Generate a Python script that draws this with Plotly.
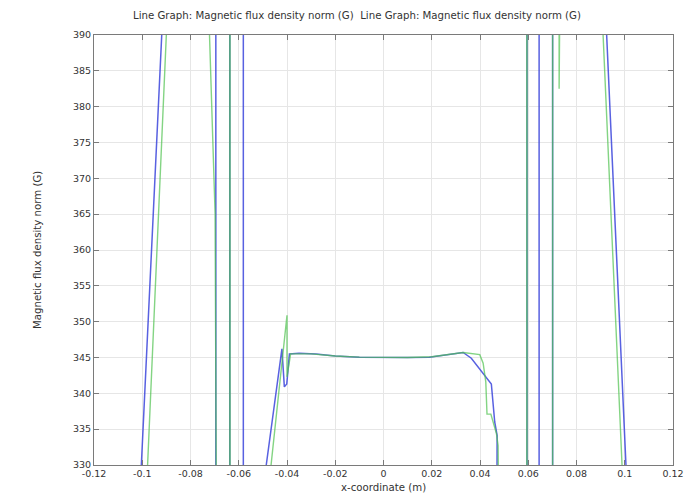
import plotly.graph_objects as go

# Blue series (values outside 330..390 run off the plotted window)
blue_x = [-0.12, -0.1008, -0.0915, -0.085, -0.0695, -0.0695, -0.0637, -0.0637,
          -0.0581, -0.0581, -0.0490, -0.0473, -0.0421, -0.0411, -0.0401, -0.0390,
          -0.035, -0.028, -0.02, -0.01, 0.0, 0.01, 0.019, 0.025, 0.033, 0.0364,
          0.0447, 0.0461, 0.0471, 0.0470, 0.0595, 0.0595, 0.0645, 0.0645, 0.0701,
          0.0701, 0.085, 0.0921, 0.1009, 0.12]
blue_y = [280, 327, 393, 900, 1500, 250, 250, 1500,
          1500, 250, 329, 333.2, 346.2, 340.9, 341.3, 345.5,
          345.6, 345.5, 345.2, 345.05, 345.0, 345.0, 345.05, 345.3, 345.7, 344.9,
          341.3, 336.0, 334.1, 325, 250, 1500, 1500, 250, 250,
          1500, 900, 393, 327, 280]

# Green series
green_x = [-0.12, -0.0983, -0.0895, -0.08, -0.0724, -0.0698, -0.0693, -0.0693,
           -0.0637, -0.0637, -0.0636, -0.0468, -0.0400, -0.0400, -0.0385,
           -0.03, -0.02, -0.01, 0.0, 0.01, 0.02, 0.033, 0.0399, 0.0413, 0.0424,
           0.0429, 0.0445, 0.0468, 0.0475, 0.0477, 0.0594, 0.0594, 0.0595,
           0.0701, 0.0701, 0.0728, 0.0728, 0.0729, 0.085, 0.0905, 0.0994, 0.12]
green_y = [280, 326, 394, 900, 393, 365, 326, 250,
           250, 1500, 250, 329.4, 350.9, 342.3, 345.5,
           345.5, 345.2, 345.05, 345.0, 345.0, 345.1, 345.7, 345.4, 344.2, 341.6,
           337.1, 337.1, 334.4, 332.7, 326, 250, 1500, 250,
           250, 1500, 1500, 382.5, 1500, 900, 394, 326, 280]

x_ticks = [-0.12, -0.1, -0.08, -0.06, -0.04, -0.02, 0, 0.02, 0.04, 0.06, 0.08, 0.1, 0.12]
x_labels = ["-0.12", "-0.1", "-0.08", "-0.06", "-0.04", "-0.02", "0",
            "0.02", "0.04", "0.06", "0.08", "0.1", "0.12"]
y_ticks = [330, 335, 340, 345, 350, 355, 360, 365, 370, 375, 380, 385, 390]

title_text = "Line Graph: Magnetic flux density norm (G)  Line Graph: Magnetic flux density norm (G)"

FONT = "DejaVu Sans"
W, H = 689, 493
L, R, T, B = 94, 16, 35, 28
PW, PH = W - L - R, H - T - B

fig = go.Figure()
fig.add_trace(go.Scatter(x=blue_x, y=blue_y, mode="lines",
                         line=dict(color="rgb(60,70,220)", width=1.5),
                         opacity=0.85, showlegend=False))
fig.add_trace(go.Scatter(x=green_x, y=green_y, mode="lines",
                         line=dict(color="rgb(80,195,80)", width=1.4),
                         opacity=0.7, showlegend=False))

axis_common = dict(showline=True, linecolor="#7a7a7a", linewidth=1, mirror="ticks",
                   ticks="inside", ticklen=5, tickcolor="#7a7a7a", automargin=False,
                   showgrid=True, gridcolor="#e6e6e6", gridwidth=1, zeroline=False,
                   tickfont=dict(family=FONT, size=9.5, color="#333333"))

fig.update_xaxes(range=[-0.12, 0.12], tickvals=x_ticks, ticktext=x_labels, **axis_common)
fig.update_yaxes(range=[330, 390], tickvals=y_ticks, ticktext=[str(v) for v in y_ticks],
                 **axis_common)

LBL = dict(family=FONT, size=10.2, color="#333333")
fig.update_layout(
    width=W, height=H,
    margin=dict(l=L, r=R, t=T, b=B, pad=0),
    paper_bgcolor="white", plot_bgcolor="white",
    font=dict(family=FONT, size=9, color="#333333"),
    annotations=[
        dict(text=title_text, xref="paper", yref="paper", x=(357 - L) / PW,
             y=1 + (T - 16) / PH, xanchor="center", yanchor="middle", showarrow=False,
             font=LBL),
        dict(text="x-coordinate (m)", xref="paper", yref="paper", x=0.5,
             y=-(487 - (H - B)) / PH, xanchor="center", yanchor="middle", showarrow=False,
             font=LBL),
        dict(text="Magnetic flux density norm (G)", xref="paper", yref="paper",
             x=-(L - 37) / PW, y=0.5, xanchor="center", yanchor="middle",
             textangle=-90, showarrow=False, font=LBL),
    ],
)

fig.write_html("out.html")
